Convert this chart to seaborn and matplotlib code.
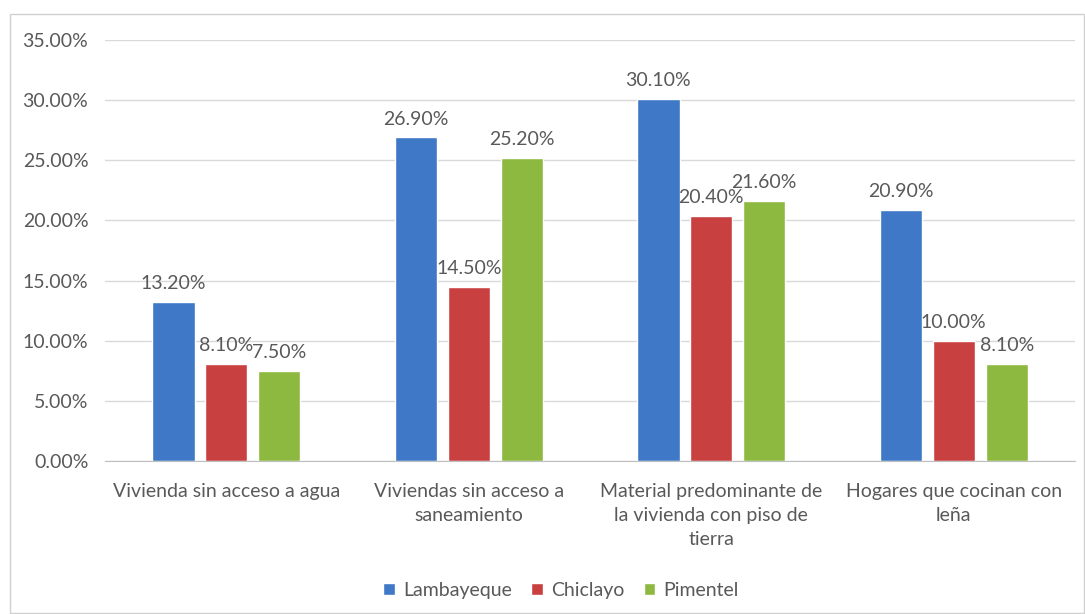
import matplotlib
matplotlib.use("Agg")
import matplotlib.pyplot as plt
import pandas as pd
import seaborn as sns
from matplotlib.patches import Rectangle
from matplotlib.ticker import FuncFormatter

categorias = [
    "Vivienda sin acceso a agua",
    "Viviendas sin acceso a\nsaneamiento",
    "Material predominante de\nla vivienda con piso de\ntierra",
    "Hogares que cocinan con\nleña",
]
lambayeque = [13.2, 26.9, 30.1, 20.9]
chiclayo = [8.1, 14.5, 20.4, 10.0]
pimentel = [7.5, 25.2, 21.6, 8.1]
series = ["Lambayeque", "Chiclayo", "Pimentel"]
colores = ["#3F78C6", "#C94040", "#8EB940"]

data = pd.DataFrame({
    "Categoria": categorias * 3,
    "Serie": [s for s in series for _ in categorias],
    "Valor": lambayeque + chiclayo + pimentel,
})

sns.set_style("white")
plt.rcParams["font.family"] = ["Lato", "DejaVu Sans"]
texto = "#595959"
fs = 14

fig = plt.figure(figsize=(10.85, 6.14), dpi=100)
ax = fig.add_axes([0.0968, 0.2492, 0.894, 0.6857])

sns.barplot(data=data, x="Categoria", y="Valor", hue="Serie",
            palette=colores, width=0.655, gap=0.2, ax=ax,
            saturation=1, legend=True)

for cont in ax.containers:
    ax.bar_label(cont, labels=[f"{v:.2f}%" for v in cont.datavalues],
                 padding=7, fontsize=fs, color=texto)

ax.set_ylim(0, 35)
ax.set_xlim(-0.5, 3.5)
ax.set_yticks(range(0, 36, 5))
ax.yaxis.set_major_formatter(FuncFormatter(lambda v, p: f"{v:.2f}%"))
ax.grid(axis="y", color="#D9D9D9", linewidth=1)
ax.set_axisbelow(True)
for s in ["top", "right", "left"]:
    ax.spines[s].set_visible(False)
ax.spines["bottom"].set_color("#BFBFBF")
ax.set_xlabel("")
ax.set_ylabel("")
ax.tick_params(axis="both", length=0, labelsize=fs, labelcolor=texto)
ax.tick_params(axis="y", pad=12)
ax.tick_params(axis="x", pad=16)
for lab in ax.get_xticklabels():
    lab.set_linespacing(1.5)

ax.legend(loc="upper center", bbox_to_anchor=(0.47, -0.245), ncol=3,
          frameon=False, fontsize=fs, labelcolor=texto, handlelength=0.6,
          handleheight=0.6, handletextpad=0.4, columnspacing=1.0)

fig.patches.append(Rectangle((0.009, 0.002), 0.99, 0.976, transform=fig.transFigure,
                             fill=False, edgecolor="#D0D0D0", linewidth=1))

plt.savefig("out.png", dpi=100)
plt.close()
